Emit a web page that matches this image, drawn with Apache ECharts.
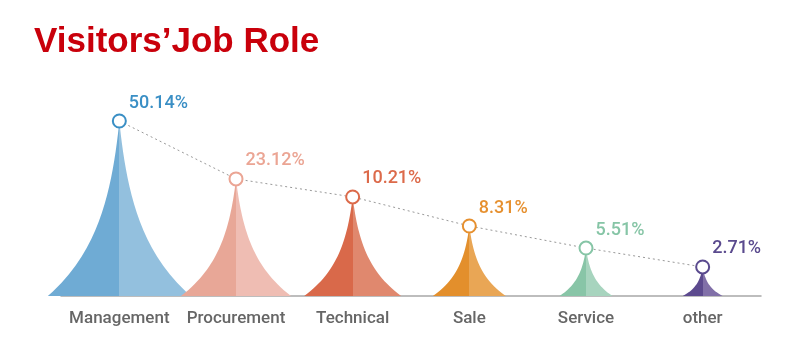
<!DOCTYPE html>
<html>
<head>
<meta charset="utf-8">
<script src="https://cdn.jsdelivr.net/npm/echarts@6/dist/echarts.min.js"></script>
<style>html,body{margin:0;padding:0;background:#fff}#c{width:791px;height:359px}</style>
</head>
<body>
<div id="c"></div>
<script>
// ---- data ----
const categories = ['Management', 'Procurement', 'Technical', 'Sale', 'Service', 'other'];
const shareLabels = [50.14, 23.12, 10.21, 8.31, 5.51, 2.71];      // printed percentages
const plottedHeights = [100, 66.9, 56.6, 40, 27.4, 16.6];         // spike heights as drawn

// ---- styles ----
const darkColors  = ['#6fabd4', '#e8a797', '#d9694a', '#e38f2c', '#88c5a7', '#5c4a8e'];
const lightColors = ['#93c0de', '#efbdb3', '#e0886e', '#e9a655', '#a7d4be', '#8170a8'];
const labelColors = ['#3a8fc5', '#eba594', '#dc6a4a', '#e6902f', '#86c5a6', '#5a4a8e'];
const spikeWidths = [143, 110, 97, 73, 53, 40];

// spike outline (concave sides), built as a normalized 100x100 path
function buildSpikePath() {
  const k = 37, steps = 40;
  const hw = h => 50 * Math.exp(-h / k) - 50 * Math.exp(-100 / k) * h / 100;
  const left = [], right = [];
  for (let i = 0; i <= steps; i++) {
    const h = i * 100 / steps;
    const w = hw(h);
    left.push((50 - w).toFixed(2) + ',' + (100 - h).toFixed(2));
    right.unshift((50 + w).toFixed(2) + ',' + (100 - h).toFixed(2));
  }
  return 'path://M' + left.join(' L') + ' L' + right.join(' L') + ' Z';
}
const spikePath = buildSpikePath();

const chart = echarts.init(document.getElementById('c'));
chart.setOption({
  animation: false,
  backgroundColor: '#fff',
  title: {
    text: 'Visitors\u2019Job Role',
    left: 29, top: 20,
    textStyle: { color: '#c9000b', fontSize: 35, fontWeight: 'bold', fontFamily: 'Liberation Sans' }
  },
  grid: { left: 61, right: 30, top: 86, bottom: 63 },
  xAxis: {
    type: 'category',
    data: categories,
    axisTick: { show: false },
    axisLine: { lineStyle: { color: '#a8a8a8', width: 1.5 } },
    axisLabel: { interval: 0, color: '#666', fontSize: 17, fontWeight: 500, fontFamily: 'Roboto', margin: 14 }
  },
  yAxis: { type: 'value', min: 0, max: 120, show: false, splitLine: { show: false } },
  series: [
    {
      type: 'pictorialBar',
      symbol: spikePath,
      symbolPosition: 'start',
      z: 2,
      data: plottedHeights.map((v, i) => ({
        value: v,
        symbolSize: [spikeWidths[i], '100%'],
        itemStyle: {
          color: {
            type: 'linear', x: 0, y: 0, x2: 1, y2: 0,
            colorStops: [
              { offset: 0, color: darkColors[i] },
              { offset: 0.5, color: darkColors[i] },
              { offset: 0.5, color: lightColors[i] },
              { offset: 1, color: lightColors[i] }
            ]
          }
        }
      }))
    },
    {
      type: 'line',
      z: 5,
      symbol: 'circle',
      symbolSize: 13,
      lineStyle: { color: '#999', width: 1, type: [2, 3] },
      data: plottedHeights.map((v, i) => ({
        value: v,
        itemStyle: { color: '#fff', borderColor: labelColors[i], borderWidth: 2 },
        label: {
          show: true,
          position: 'right',
          distance: 2,
          offset: [0, -18],
          formatter: shareLabels[i].toFixed(2) + '%',
          color: labelColors[i],
          fontSize: 18,
          fontWeight: 500,
          fontFamily: 'Roboto'
        }
      }))
    }
  ]
});
</script>
</body>
</html>
